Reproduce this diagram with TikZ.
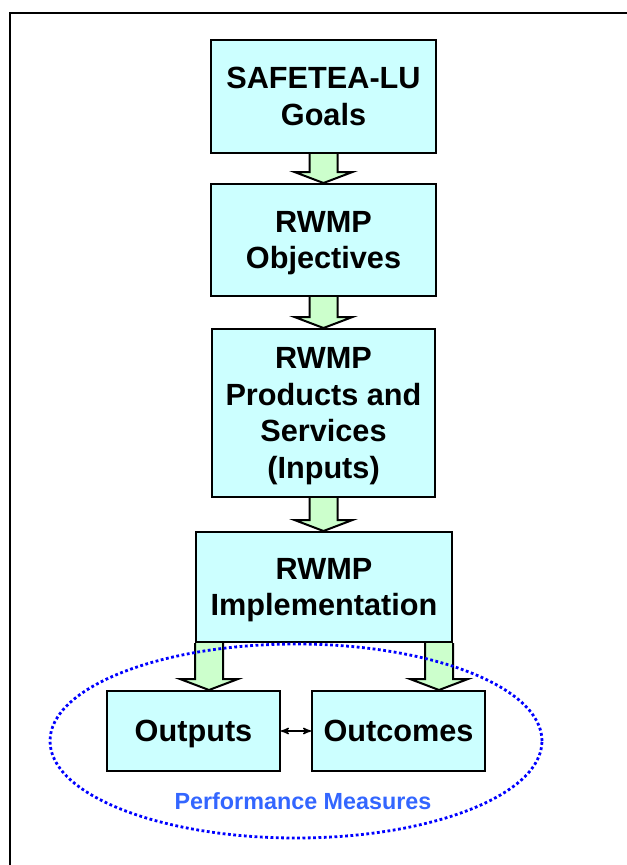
\documentclass[tikz,border=0pt]{standalone}
\usepackage{fontspec}
\setmainfont{Liberation Sans}
\definecolor{boxcyan}{RGB}{204,255,255}
\definecolor{arrowgreen}{RGB}{204,255,204}
\definecolor{pmblue}{RGB}{51,102,255}
\definecolor{dotblue}{RGB}{0,0,255}
\usetikzlibrary{arrows}
\usetikzlibrary{calc}
\usetikzlibrary{positioning}
\usetikzlibrary{shapes}
\tikzset{
  stage/.style={
    draw, line width=1.5pt, fill=boxcyan,
    align=center, inner sep=0, text depth=0pt,
    font=\bfseries\fontsize{23}{27.5}\selectfont
  },
  blockarrow/.style={draw, line width=1.5pt, fill=arrowgreen, line join=miter},
  measures/.style={draw=dotblue, line width=2.1pt, dash pattern=on 2.1pt off 1.9pt},
  link/.style={<->,>=stealth', line width=1.1pt}
}
% hollow block arrow from a point down to the top of a node
\newcommand{\flowarrow}[2]{%
  \coordinate (tip) at (#1 |- #2.north);
  \draw[blockarrow] ($(#1)+(-14,0)$) -- ($(tip)+(-14,-11)$) -- ($(tip)+(-29,-11)$)
    -- (tip) -- ($(tip)+(29,-11)$) -- ($(tip)+(14,-11)$) -- ($(#1)+(14,0)$);
}

\begin{document}
\begin{tikzpicture}[x=0.75pt, y=-0.75pt]
  \useasboundingbox (0,0) rectangle (627,865);
  \draw[line width=1.5pt] (10,865) -- (10,13) -- (627,13);

  \node[stage, minimum width=168.75pt, minimum height=84.75pt] (goals) at (323.5,96.5) {SAFETEA-LU\\Goals};
  \node[stage, minimum width=168.75pt, minimum height=84pt] (objectives) at (323.5,240) {RWMP\\Objectives};
  \node[stage, minimum width=167.25pt, minimum height=126pt] (products) at (323.5,413) {RWMP\\Products and\\Services\\(Inputs)};
  \node[stage, minimum width=192pt, minimum height=82.5pt] (impl) at (324,587) {RWMP\\Implementation};
  \node[stage, minimum width=129.75pt, minimum height=60pt] (outputs) at (193.5,731) {Outputs};
  \node[stage, minimum width=129.75pt, minimum height=60pt] (outcomes) at (398.5,731) {Outcomes};

  \flowarrow{goals.south}{objectives}
  \flowarrow{objectives.south}{products}
  \flowarrow{products.south}{impl}
  \coordinate (implL) at ($(impl.south west)+(14,0)$);
  \coordinate (implR) at ($(impl.south east)+(-14,0)$);
  \flowarrow{implL}{outputs}
  \flowarrow{implR}{outcomes}

  \node[measures, ellipse, minimum width=369pt, minimum height=145.5pt, inner sep=0] (pm) at (296,741) {};
  \node[text=pmblue, font=\bfseries\fontsize{17.5}{21}\selectfont] (pmlabel) at (303,801) {Performance Measures};

  \draw[link] (outputs) -- (outcomes);
\end{tikzpicture}
\end{document}
